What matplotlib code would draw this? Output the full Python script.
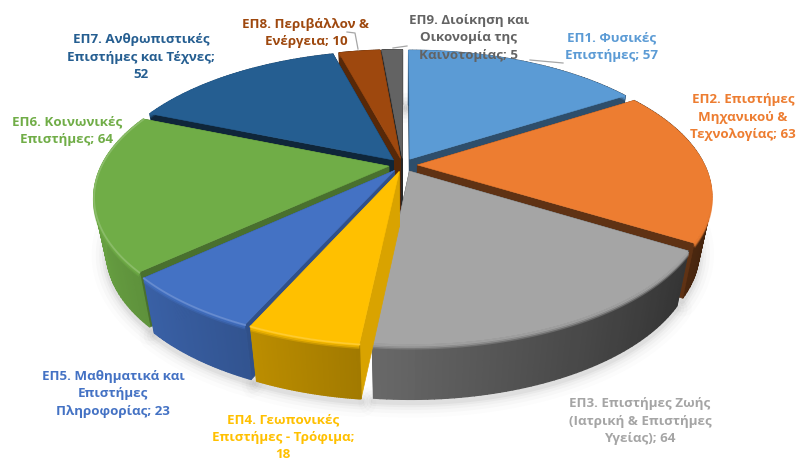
import numpy as np
import matplotlib
matplotlib.use("Agg")
import matplotlib.pyplot as plt
from matplotlib.colors import to_rgb
from matplotlib.patches import Polygon

categories = ["ΕΠ1. Φυσικές\nΕπιστήμες", "ΕΠ2. Επιστήμες\nΜηχανικού &\nΤεχνολογίας",
              "ΕΠ3. Επιστήμες Ζωής\n(Ιατρική & Επιστήμες\nΥγείας)", "ΕΠ4. Γεωπονικές\nΕπιστήμες - Τρόφιμα",
              "ΕΠ5. Μαθηματικά και\nΕπιστήμες\nΠληροφορίας", "ΕΠ6. Κοινωνικές\nΕπιστήμες",
              "ΕΠ7. Ανθρωπιστικές\nΕπιστήμες και Τέχνες", "ΕΠ8. Περιβάλλον &\nΕνέργεια",
              "ΕΠ9. Διοίκηση και\nΟικονομία της\nΚαινοτομίας"]
values = [57, 63, 64, 18, 23, 64, 52, 10, 5]
label_sep = ["; ", "; ", "; ", ";\n", "; ", "; ", ";\n", "; ", "; "]
colors = ["#5B9BD5", "#ED7D31", "#A5A5A5", "#FFC000", "#4472C4", "#70AD47", "#255E91", "#9E480E", "#636363"]
cut_shade = [0.5, 0.4, 0.4, 0.85, 0.7, 0.65, 0.4, 0.55, 0.4]
label_xy = [(612, 47), (743, 117), (640, 421), (283, 437), (113, 394), (67, 131), (141, 57), (306, 33), (469, 38)]

CX, CY, A, B, P, EXPL = 403, 165, 134, 287, 0.21, 0.05
H = 55

def project(u, v, down=0.0):
    w = 1 + P * v
    x = B * u / w * (1 - 0.04 * down / H)
    return CX + x, CY - A * v / w + down

def mix(c, f):
    c = np.array(to_rgb(c))
    return tuple(np.clip(c * f, 0, 1))

def lighten(c, f):
    c = np.array(to_rgb(c))
    return tuple(c + (1 - c) * f)

fig = plt.figure(figsize=(7.97, 4.62), dpi=100)
ax = fig.add_axes([0, 0, 1, 1])
ax.set_xlim(0, 797)
ax.set_ylim(462, 0)
ax.axis("off")

frac = np.array(values, float) / sum(values) * 2 * np.pi
ends = np.cumsum(frac)
starts = ends - frac
mids = (starts + ends) / 2

def rim(i, n=60):
    t = np.linspace(starts[i], ends[i], n)
    return t, np.sin(t) + EXPL * np.sin(mids[i]), np.cos(t) + EXPL * np.cos(mids[i])

# soft shadow under the pie
for i in range(len(values)):
    t, u, v = rim(i)
    for lw, a in zip((22, 16, 11, 7, 4), (0.012, 0.018, 0.025, 0.03, 0.04)):
        x, y = project(u, v, H + 2)
        ax.plot(x, y + 1, color="k", alpha=a, lw=lw, zorder=1, solid_capstyle="round")

for i in sorted(range(len(values)), key=lambda k: -np.cos(mids[k])):
    base_z = 10 * (1 + sorted(range(len(values)), key=lambda k: -np.cos(mids[k])).index(i))
    c = colors[i]
    t, u, v = rim(i)
    u0, v0 = EXPL * np.sin(mids[i]), EXPL * np.cos(mids[i])
    # back slices: cut faces sit over the wall; front slices: wall sits over them
    cut_z = base_z + (2 if np.cos(mids[i]) > 0 else 0)
    wall_z = base_z + (0 if np.cos(mids[i]) > 0 else 2)
    for uu, vv in ((u[0], v[0]), (u[-1], v[-1])):
        x = np.array([project(u0, v0)[0], project(uu, vv)[0], project(uu, vv, H)[0], project(u0, v0, H)[0]])
        y = np.array([project(u0, v0)[1], project(uu, vv)[1], project(uu, vv, H)[1], project(u0, v0, H)[1]])
        ax.add_patch(Polygon(np.c_[x, y], fc=mix(c, cut_shade[i]), ec=mix(c, cut_shade[i]), lw=0.5, zorder=cut_z))
    # outer wall, shaded along the arc
    for k in range(len(t) - 1):
        xa, ya = project(u[k:k + 2], v[k:k + 2])
        xb, yb = project(u[k:k + 2], v[k:k + 2], H)
        f = 0.6 - 0.33 * np.sin(t[k])
        ax.add_patch(Polygon(np.c_[np.r_[xa, xb[::-1]], np.r_[ya, yb[::-1]]],
                             fc=mix(c, f), ec=mix(c, f), lw=1.0, zorder=wall_z))
    # bevel on the wall's top
    x, y = project(u, v)
    for dy, w in ((4, 0.35), (2.5, 0.65), (1, 0.9)):
        ax.plot(x, y + dy, color=c, alpha=w, lw=1.6, zorder=base_z + 3, solid_capstyle="butt")
    # top
    px = np.r_[project(u0, v0)[0], x]
    py = np.r_[project(u0, v0)[1], y]
    ax.add_patch(Polygon(np.c_[px, py], fc=c, ec=c, lw=0.4, zorder=base_z + 4))
    if i in (3, 4, 5):
        ax.plot(x, y + 0.5, color=lighten(c, 0.18), lw=1.3, zorder=base_z + 5)

# leader lines
leader_x = [[530, 563], [347, 355, 358], [393, 407]]
leader_y = [[60, 63], [32, 33, 49], [48, 46]]
for lx, ly in zip(leader_x, leader_y):
    ax.plot(lx, ly, color="#A6A6A6", lw=0.9, zorder=200)

# labels
for i, (name, val) in enumerate(zip(categories, values)):
    ax.text(*label_xy[i], f"{name}{label_sep[i]}{val}", color=colors[i], ha="center", va="center",
            family="Open Sans", fontweight="bold", fontsize=9.6, linespacing=1.42, zorder=210)

fig.savefig("out.png", dpi=100, facecolor="white")
